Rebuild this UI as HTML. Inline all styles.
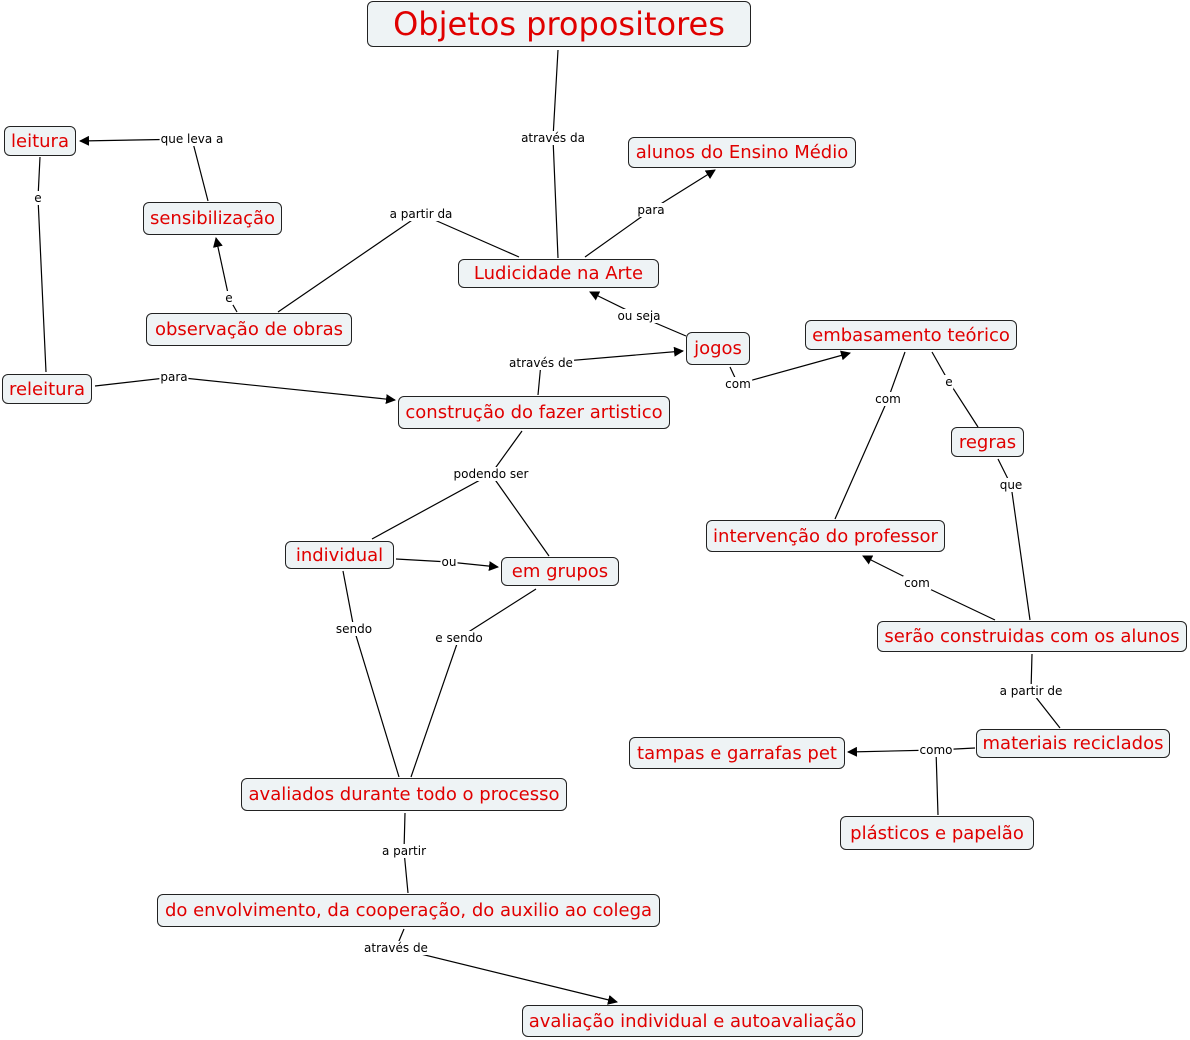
<!DOCTYPE html>
<html><head><meta charset="utf-8"><style>
body{margin:0;width:1190px;height:1040px;background:#fff;position:relative;overflow:hidden;font-family:"DejaVu Sans","Liberation Sans",sans-serif}
.n{position:absolute;box-sizing:border-box;border:1px solid #222;border-radius:6px;background:#eef3f5;color:#e00000;font-size:18px;display:flex;align-items:center;justify-content:center;white-space:nowrap}
.l{position:absolute;font-size:12px;color:#000;background:#fff;transform:translate(-50%,-50%);white-space:nowrap;padding:0 1px;line-height:14px}
svg{position:absolute;left:0;top:0}
</style></head><body>
<svg width="1190" height="1040"><defs><marker id="a" markerWidth="10" markerHeight="10" refX="9" refY="5" orient="auto" markerUnits="userSpaceOnUse"><path d="M0,0L10,5L0,10z" fill="#000"/></marker></defs>
<g stroke="#000" stroke-width="1.2" fill="none">
<path d="M558,50L553,138L558,258"/>
<path d="M585,257L651,210L715,170" marker-end="url(#a)"/>
<path d="M519,257L421,214L278,312"/>
<path d="M237,312L229,298L216,238" marker-end="url(#a)"/>
<path d="M208,201L192,139L80,141" marker-end="url(#a)"/>
<path d="M40,157L38,198L46,372"/>
<path d="M95,386L174,377L395,400" marker-end="url(#a)"/>
<path d="M538,395L541,363L683,351" marker-end="url(#a)"/>
<path d="M686,336L639,316L590,292" marker-end="url(#a)"/>
<path d="M730,367L738,384L850,353" marker-end="url(#a)"/>
<path d="M905,352L888,399L835,519"/>
<path d="M932,352L949,382L978,427"/>
<path d="M998,459L1011,485L1030,620"/>
<path d="M995,620L917,583L863,556" marker-end="url(#a)"/>
<path d="M1032,654L1031,691L1060,728"/>
<path d="M975,748L936,750L848,752" marker-end="url(#a)"/>
<path d="M936,750L938,815"/>
<path d="M522,431L491,474L372,539"/>
<path d="M491,474L549,556"/>
<path d="M396,559L449,562L498,567" marker-end="url(#a)"/>
<path d="M343,571L354,629L399,777"/>
<path d="M536,589L459,638L411,777"/>
<path d="M405,813L404,851L408,893"/>
<path d="M404,929L396,948L617,1002" marker-end="url(#a)"/>
</g></svg>
<div class="l" style="left:553px;top:138px">através da</div>
<div class="l" style="left:651px;top:210px">para</div>
<div class="l" style="left:421px;top:214px">a partir da</div>
<div class="l" style="left:229px;top:298px">e</div>
<div class="l" style="left:192px;top:139px">que leva a</div>
<div class="l" style="left:38px;top:198px">e</div>
<div class="l" style="left:174px;top:377px">para</div>
<div class="l" style="left:541px;top:363px">através de</div>
<div class="l" style="left:639px;top:316px">ou seja</div>
<div class="l" style="left:738px;top:384px">com</div>
<div class="l" style="left:888px;top:399px">com</div>
<div class="l" style="left:949px;top:382px">e</div>
<div class="l" style="left:1011px;top:485px">que</div>
<div class="l" style="left:917px;top:583px">com</div>
<div class="l" style="left:1031px;top:691px">a partir de</div>
<div class="l" style="left:936px;top:750px">como</div>
<div class="l" style="left:491px;top:474px">podendo ser</div>
<div class="l" style="left:449px;top:562px">ou</div>
<div class="l" style="left:354px;top:629px">sendo</div>
<div class="l" style="left:459px;top:638px">e sendo</div>
<div class="l" style="left:404px;top:851px">a partir</div>
<div class="l" style="left:396px;top:948px">através de</div>

<div class="n" style="left:367px;top:1px;width:384px;height:46px;font-size:32px">Objetos propositores</div>
<div class="n" style="left:4px;top:126px;width:72px;height:30px">leitura</div>
<div class="n" style="left:143px;top:202px;width:139px;height:33px">sensibilização</div>
<div class="n" style="left:146px;top:313px;width:206px;height:33px">observação de obras</div>
<div class="n" style="left:2px;top:374px;width:90px;height:30px">releitura</div>
<div class="n" style="left:458px;top:259px;width:201px;height:29px">Ludicidade na Arte</div>
<div class="n" style="left:628px;top:137px;width:228px;height:31px">alunos do Ensino Médio</div>
<div class="n" style="left:686px;top:332px;width:64px;height:33px">jogos</div>
<div class="n" style="left:805px;top:320px;width:212px;height:30px">embasamento teórico</div>
<div class="n" style="left:398px;top:396px;width:272px;height:33px">construção do fazer artistico</div>
<div class="n" style="left:951px;top:427px;width:73px;height:30px">regras</div>
<div class="n" style="left:285px;top:541px;width:109px;height:28px">individual</div>
<div class="n" style="left:501px;top:557px;width:118px;height:29px">em grupos</div>
<div class="n" style="left:706px;top:520px;width:239px;height:32px">intervenção do professor</div>
<div class="n" style="left:877px;top:621px;width:310px;height:31px">serão construidas com os alunos</div>
<div class="n" style="left:976px;top:729px;width:194px;height:29px">materiais reciclados</div>
<div class="n" style="left:629px;top:737px;width:216px;height:32px">tampas e garrafas pet</div>
<div class="n" style="left:840px;top:816px;width:194px;height:34px">plásticos e papelão</div>
<div class="n" style="left:241px;top:778px;width:326px;height:33px">avaliados durante todo o processo</div>
<div class="n" style="left:157px;top:894px;width:503px;height:33px">do envolvimento, da cooperação, do auxilio ao colega</div>
<div class="n" style="left:522px;top:1005px;width:341px;height:32px">avaliação individual e autoavaliação</div>
</body></html>
